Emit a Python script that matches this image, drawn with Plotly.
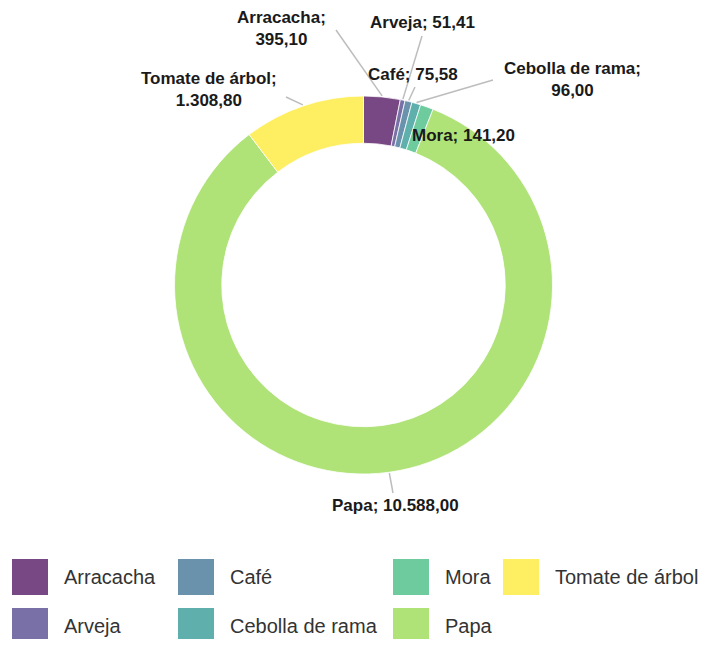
import math

import plotly.graph_objects as go

# data
LABELS = ["Arracacha", "Arveja", "Café", "Cebolla de rama", "Mora", "Papa", "Tomate de árbol"]
VALUES = [395.10, 51.41, 75.58, 96.00, 141.20, 10588.00, 1308.80]
COLORS = [
    "rgba(68,1,84,0.72)",     # viridis, washed out
    "rgba(68,57,131,0.72)",
    "rgba(49,104,142,0.72)",
    "rgba(33,145,140,0.72)",
    "rgba(53,183,121,0.72)",
    "rgba(144,215,67,0.72)",
    "rgba(253,231,37,0.72)",
]

# page geometry (body keeps its 8px default margin)
OFFSET = 8
W, H = 699, 631
CX, CY, R = 363.5, 285.0, 189.0   # donut centre / outer radius, page px
HOLE = 0.75

FONT = "Liberation Sans, Arial, sans-serif"

# label placement: text centre and leader-line end (page px)
LABEL_POS = {
    "Arracacha": dict(x=281, y=29, tail=(336, 30)),
    "Arveja": dict(x=422, y=23, tail=(422, 36)),
    "Café": dict(x=413, y=75, tail=(415, 87)),
    "Cebolla de rama": dict(x=572, y=80, tail=(493, 80)),
    "Mora": dict(x=463, y=135, tail=None),
    "Papa": dict(x=395, y=505, tail=(393, 493)),
    "Tomate de árbol": dict(x=209, y=89, tail=(286, 97)),
}
WRAPPED = {"Arracacha", "Cebolla de rama", "Tomate de árbol"}

LEGEND_COL_X = [12, 178, 393, 503]
LEGEND_ROW_Y = [577, 626]
SWATCH = 36


def px_x(x):
    return (x - OFFSET) / W


def px_y(y):
    return 1 - (y - OFFSET) / H


def es_num(v):
    s = f"{v:,.2f}"
    return s.replace(",", "X").replace(".", ",").replace("X", ".")


fig = go.Figure(go.Pie(
    labels=LABELS, values=VALUES,
    sort=False, direction="clockwise", rotation=0,
    hole=HOLE, textinfo="none",
    marker=dict(colors=COLORS, line=dict(color="white", width=0.8)),
    domain=dict(x=[px_x(CX - R), px_x(CX + R)], y=[px_y(CY + R), px_y(CY - R)]),
    showlegend=False,
))

shapes = []
annotations = []

# slice labels with leader lines
total = sum(VALUES)
start = 0.0
for lab, val in zip(LABELS, VALUES):
    mid = math.radians((start + val / 2) / total * 360)
    start += val
    pos = LABEL_POS[lab]
    if pos["tail"] is not None:
        hx = CX + (R + 1) * math.sin(mid)
        hy = CY - (R + 1) * math.cos(mid)
        tx, ty = pos["tail"]
        shapes.append(dict(
            type="line", xref="paper", yref="paper",
            x0=px_x(hx), y0=px_y(hy), x1=px_x(tx), y1=px_y(ty),
            line=dict(color="#bdbdbd", width=1.5),
        ))
    sep = "<br>" if lab in WRAPPED else " "
    annotations.append(dict(
        x=px_x(pos["x"]), y=px_y(pos["y"]), xref="paper", yref="paper",
        text=f"{lab};{sep}{es_num(val)}", showarrow=False,
        xanchor="center", yanchor="middle", align="center",
        font=dict(family=FONT, size=17, color="#1a1a1a", weight="bold"),
    ))

# legend, filled column by column
for i, (lab, col) in enumerate(zip(LABELS, COLORS)):
    sx = LEGEND_COL_X[i // 2]
    ry = LEGEND_ROW_Y[i % 2]
    shapes.append(dict(
        type="rect", xref="paper", yref="paper",
        x0=px_x(sx), x1=px_x(sx + SWATCH),
        y0=px_y(ry + SWATCH / 2), y1=px_y(ry - SWATCH / 2),
        fillcolor=col, line=dict(width=0),
    ))
    annotations.append(dict(
        x=px_x(sx + SWATCH + 14), y=px_y(ry), xref="paper", yref="paper",
        text=lab, showarrow=False, xanchor="left", yanchor="middle",
        font=dict(family=FONT, size=20, color="#333333"),
    ))

fig.update_layout(
    width=W, height=H,
    margin=dict(l=0, r=0, t=0, b=0),
    paper_bgcolor="white", plot_bgcolor="white",
    showlegend=False,
    shapes=shapes,
    annotations=annotations,
)

fig.write_html("out.html")
